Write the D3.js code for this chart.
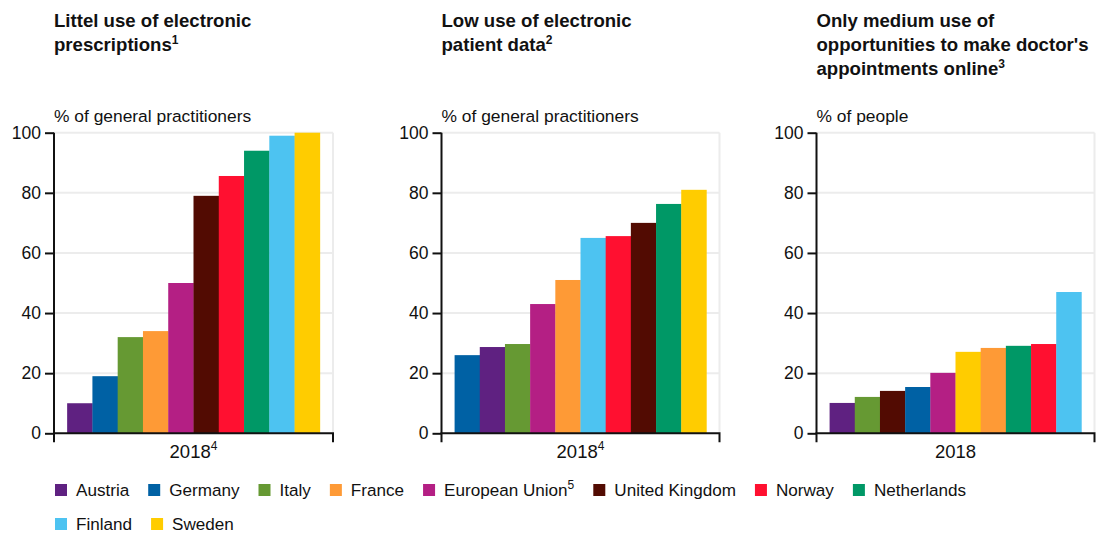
<!DOCTYPE html>
<html>
<head>
<meta charset="utf-8">
<script src="https://cdn.jsdelivr.net/npm/d3@7"></script>
<style>
  html, body { margin: 0; padding: 0; background: #ffffff; }
  svg { display: block; font-family: "Liberation Sans", Arial, sans-serif; }
</style>
</head>
<body>
<svg id="chart" width="1098" height="536"></svg>
<script>
// Countries and their fixed colours
const countries = ["Austria", "Germany", "Italy", "France", "European Union", "United Kingdom", "Norway", "Netherlands", "Finland", "Sweden"];
const countryColors = ["#5f2181", "#0061a4", "#669933", "#fe9a36", "#b41f84", "#520b02", "#ff1030", "#009866", "#4dc3f1", "#ffcc00"];
const legendNotes = { "European Union": "5" };

// Panel 1: electronic prescriptions (% of general practitioners)
const prescriptionOrder = ["Austria", "Germany", "Italy", "France", "European Union", "United Kingdom", "Norway", "Netherlands", "Finland", "Sweden"];
const prescriptionValues = [10, 19, 32, 34, 50, 79, 85.6, 94, 99, 100];

// Panel 2: electronic patient data (% of general practitioners)
const patientDataOrder = ["Germany", "Austria", "Italy", "European Union", "France", "Finland", "Norway", "United Kingdom", "Netherlands", "Sweden"];
const patientDataValues = [26, 28.7, 29.7, 43, 51, 65, 65.6, 70, 76.3, 81];

// Panel 3: online doctor's appointments (% of people)
const appointmentOrder = ["Austria", "Italy", "United Kingdom", "Germany", "European Union", "Sweden", "France", "Netherlands", "Norway", "Finland"];
const appointmentValues = [10.1, 12.1, 14.1, 15.4, 20.1, 27.1, 28.4, 29.1, 29.7, 47];

const yTicks = [0, 20, 40, 60, 80, 100];

const panels = [
  { title: ["Littel use of electronic", "prescriptions"], note: "1", unit: "% of general practitioners",
    year: "2018", yearNote: "4", order: prescriptionOrder, values: prescriptionValues, left: 54, width: 279 },
  { title: ["Low use of electronic", "patient data"], note: "2", unit: "% of general practitioners",
    year: "2018", yearNote: "4", order: patientDataOrder, values: patientDataValues, left: 441.5, width: 278 },
  { title: ["Only medium use of", "opportunities to make doctor's", "appointments online"], note: "3", unit: "% of people",
    year: "2018", yearNote: "", order: appointmentOrder, values: appointmentValues, left: 816.5, width: 278 }
];

const color = d3.scaleOrdinal().domain(countries).range(countryColors);
const svg = d3.select("#chart");

const plotTop = 132.7, plotBottom = 433.3;
const y = d3.scaleLinear().domain([0, 100]).range([plotBottom, plotTop]);

panels.forEach(p => {
  const g = svg.append("g").attr("transform", `translate(${p.left},0)`);

  // Title with footnote marker on its last line
  const title = g.append("text").attr("x", 0).attr("y", 27)
    .attr("font-size", 18.6).attr("font-weight", "bold").attr("fill", "#111");
  p.title.forEach((line, i) => {
    title.append("tspan").attr("x", 0).attr("dy", i === 0 ? 0 : 24).text(line);
    if (i === p.title.length - 1) {
      title.append("tspan").attr("font-size", 12).attr("dy", -7).text(p.note);
    }
  });

  g.append("text").attr("x", 0).attr("y", 122).attr("font-size", 17.4).attr("fill", "#111").text(p.unit);

  // Horizontal gridlines and right border
  g.append("g").selectAll("line").data(yTicks.filter(d => d > 0)).join("line")
    .attr("x1", 0).attr("x2", p.width)
    .attr("y1", d => y(d)).attr("y2", d => y(d))
    .attr("stroke", "#ececec").attr("stroke-width", 2);
  g.append("line").attr("x1", p.width).attr("x2", p.width)
    .attr("y1", y(100)).attr("y2", y(0))
    .attr("stroke", "#ececec").attr("stroke-width", 2);

  // Bars: one year band, split into countries
  const x0 = d3.scaleBand().domain([p.year]).range([0, p.width]).paddingInner(0).paddingOuter(0.052);
  const x1 = d3.scaleBand().domain(p.order).range([0, x0.bandwidth()]).padding(0);
  const data = p.order.map((c, i) => ({ country: c, value: p.values[i] }));
  g.append("g").attr("transform", `translate(${x0(p.year)},0)`)
    .selectAll("rect").data(data).join("rect")
    .attr("x", d => x1(d.country)).attr("width", x1.bandwidth() + 0.3)
    .attr("y", d => y(d.value)).attr("height", d => y(0) - y(d.value))
    .attr("fill", d => color(d.country));

  // Y axis
  const yAxis = g.append("g").call(d3.axisLeft(y).tickValues(yTicks).tickSize(9).tickPadding(4));
  yAxis.select(".domain").attr("stroke", "#111").attr("stroke-width", 2).attr("d", `M0,${y(100)}V${y(0)}`);
  yAxis.selectAll(".tick line").attr("stroke", "#111").attr("stroke-width", 2);
  yAxis.selectAll(".tick text").attr("font-size", 17.5).attr("fill", "#111")
    .attr("font-family", "Liberation Sans, Arial, sans-serif");

  // X axis with end ticks
  const xAxis = g.append("g").attr("transform", `translate(0,${y(0)})`)
    .call(d3.axisBottom(x0).tickSize(0).tickPadding(10));
  xAxis.select(".domain").attr("stroke", "#111").attr("stroke-width", 2)
    .attr("d", `M0,9V0H${p.width}V9`).attr("fill", "none");
  const lbl = xAxis.select(".tick text").attr("font-size", 18.5).attr("fill", "#111")
    .attr("font-family", "Liberation Sans, Arial, sans-serif").attr("dy", "0.82em").text(null);
  lbl.append("tspan").text(p.year);
  if (p.yearNote) lbl.append("tspan").attr("font-size", 12).attr("dy", -8).text(p.yearNote);
});

// Legend
const legend = svg.append("g");
let lx = 55, ly = 490;
countries.forEach(c => {
  const item = legend.append("g");
  item.append("rect").attr("width", 12).attr("height", 12).attr("y", -6).attr("fill", color(c));
  const t = item.append("text").attr("x", 21).attr("y", 6).attr("font-size", 17.1).attr("fill", "#111").text(c);
  if (legendNotes[c]) t.append("tspan").attr("font-size", 12).attr("dy", -7).text(legendNotes[c]);
  const w = 21 + t.node().getComputedTextLength() + 19;
  if (lx + w > 1010) { lx = 55; ly += 34; }
  item.attr("transform", `translate(${lx},${ly})`);
  lx += w;
});
</script>
</body>
</html>
